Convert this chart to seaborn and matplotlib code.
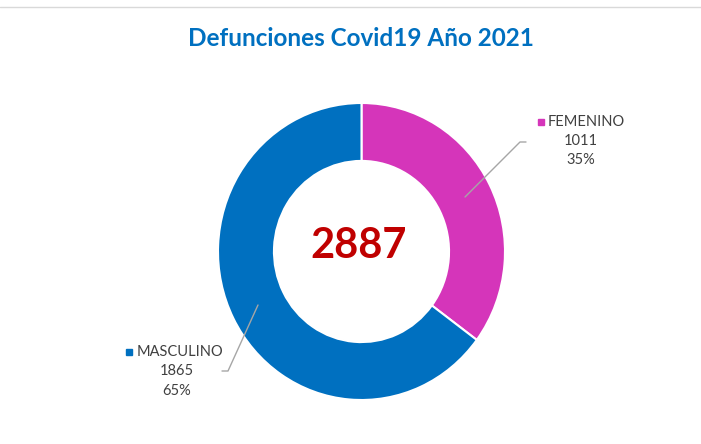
import matplotlib.pyplot as plt
import seaborn as sns

# Datos
categorias = ['FEMENINO', 'MASCULINO']
defunciones = [1011, 1865]
porcentajes = ['35%', '65%']
total = 2887
colores = ['#D535BA', '#0070C0']

sns.set_theme(style="white")
plt.rcParams['font.family'] = ['Lato', 'DejaVu Sans']

W, H = 701, 444
fig = plt.figure(figsize=(W / 100, H / 100), dpi=100)

# dona en su propio eje (ligeramente mas alta que ancha, como la original)
cx, cy, rx, ry = 361.5, 251.5, 143.5, 148.5
axp = fig.add_axes([(cx - rx) / W, (H - cy - ry) / H, 2 * rx / W, 2 * ry / H])
axp.pie(
    defunciones,
    colors=colores,
    startangle=90,
    counterclock=False,
    radius=1,
    wedgeprops=dict(width=0.39, edgecolor='white', linewidth=1.5),
)
axp.set_xlim(-1, 1)
axp.set_ylim(-1, 1)
axp.set_aspect('auto')
axp.axis('off')

# capa de textos en coordenadas de pixel (y desde arriba), encima de la dona
ax = fig.add_axes([0, 0, 1, 1])
ax.set_xlim(0, W)
ax.set_ylim(H, 0)
ax.axis('off')
ax.set_zorder(3)

# Titulo
ax.text(361, 38, 'Defunciones Covid19 Año 2021', ha='center', va='center',
        fontsize=17.5, fontweight='bold', color='#0070C0')

# Total en el centro
ax.text(359, 246, str(total), ha='center', va='center',
        fontsize=30, fontweight='bold', color='#C00000')

gris = '#404040'
linea = '#A6A6A6'

# Etiqueta FEMENINO
ax.plot([465, 520, 526], [197, 142, 142], color=linea, lw=1)
ax.plot([541], [122], marker='s', ms=5, color=colores[0], ls='none')
ax.text(548, 122, categorias[0], ha='left', va='center', fontsize=10.5, color=gris)
ax.text(581, 141, str(defunciones[0]), ha='center', va='center', fontsize=10.5, color=gris)
ax.text(581, 160, porcentajes[0], ha='center', va='center', fontsize=10.5, color=gris)

# Etiqueta MASCULINO
ax.plot([258, 228, 222], [305, 371, 371], color=linea, lw=1)
ax.plot([129], [352], marker='s', ms=5, color=colores[1], ls='none')
ax.text(137, 352, categorias[1], ha='left', va='center', fontsize=10.5, color=gris)
ax.text(177, 371, str(defunciones[1]), ha='center', va='center', fontsize=10.5, color=gris)
ax.text(177, 391, porcentajes[1], ha='center', va='center', fontsize=10.5, color=gris)

# borde superior
ax.plot([0, W], [7, 7], color='#D9D9D9', lw=1)

fig.savefig('out.png', dpi=100, facecolor='white')
